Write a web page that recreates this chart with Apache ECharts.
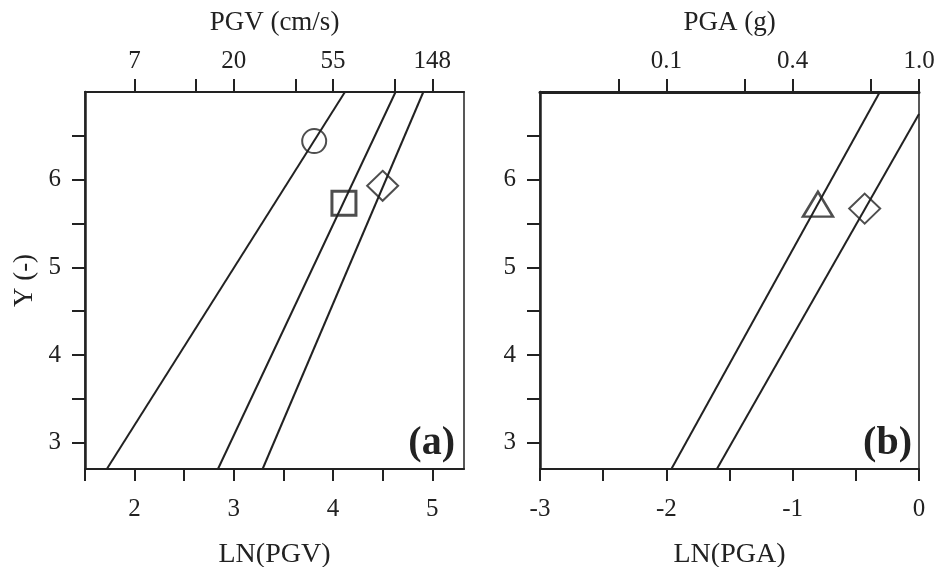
<!DOCTYPE html>
<html>
<head>
<meta charset="utf-8">
<script src="https://cdn.jsdelivr.net/npm/echarts@6/dist/echarts.min.js"></script>
<style>
  html, body { margin: 0; padding: 0; background: #fff; }
  #chart { width: 943px; height: 567px; }
</style>
</head>
<body>
<div id="chart"></div>
<script>
// y axis (shared by both panels)
const yTicks = [3, 3.5, 4, 4.5, 5, 5.5, 6, 6.5];
const yLabels = [3, 4, 5, 6];

// panel (a): LN(PGV) bottom, PGV top
const pgvTicks = [1.5, 2, 2.5, 3, 3.5, 4, 4.5, 5];
const pgvLabels = [2, 3, 4, 5];
const pgvTopTicks = [2, 2.62, 3, 3.62, 4, 4.62, 5];
const pgvTopAt = [2, 3, 4, 5];
const pgvTopText = ['7', '20', '55', '148'];

// panel (b): LN(PGA) bottom, PGA top
const pgaTicks = [-3, -2.5, -2, -1.5, -1, -0.5, 0];
const pgaLabels = [-3, -2, -1, 0];
const pgaTopTicks = [-2.38, -2, -1.38, -1, -0.38, 0];
const pgaTopAt = [-2, -1, 0];
const pgaTopText = ['0.1', '0.4', '1.0'];

// lines
const pgvLineCircle = [[1.72, 2.7], [4.12, 7]];
const pgvLineSquare = [[2.84, 2.7], [4.63, 7]];
const pgvLineDiamond = [[3.29, 2.7], [4.91, 7]];
const pgaLineTriangle = [[-1.96, 2.7], [-0.31, 7]];
const pgaLineDiamond = [[-1.60, 2.7], [0, 6.75]];

// markers
const ptCircle = [[3.81, 6.44]];
const ptSquare = [[4.11, 5.73]];
const ptDiamond = [[4.50, 5.93]];
const ptTriangle = [[-0.80, 5.72]];
const ptDiamondB = [[-0.43, 5.67]];

const ink = '#222';
const font = 'Liberation Serif';

function topLabel(at, text) {
  return function (v) {
    for (let i = 0; i < at.length; i++) {
      if (Math.abs(at[i] - v) < 1e-6) return text[i];
    }
    return '';
  };
}

function xAxisBottom(grid, min, max, ticks, labels, name) {
  return {
    type: 'value', gridIndex: grid, position: 'bottom', min: min, max: max,
    name: name, nameLocation: 'middle', nameGap: 72,
    nameTextStyle: { fontFamily: font, fontSize: 28, color: ink },
    axisLine: { show: true, onZero: false, lineStyle: { color: ink, width: 2 } },
    axisTick: { show: true, inside: false, length: 12, customValues: ticks, lineStyle: { color: ink, width: 2 } },
    axisLabel: { customValues: labels, margin: 28, fontFamily: font, fontSize: 25, color: ink },
    splitLine: { show: false }
  };
}

function xAxisTop(grid, min, max, ticks, at, text, name, lw) {
  return {
    type: 'value', gridIndex: grid, position: 'top', min: min, max: max,
    name: name, nameLocation: 'middle', nameGap: 56,
    nameTextStyle: { fontFamily: font, fontSize: 27, color: ink },
    axisLine: { show: true, onZero: false, lineStyle: { color: ink, width: lw } },
    axisTick: { show: true, inside: false, length: 13, customValues: ticks, lineStyle: { color: ink, width: 2 } },
    axisLabel: { customValues: at, formatter: topLabel(at, text), margin: 18, fontFamily: font, fontSize: 25, color: ink },
    splitLine: { show: false }
  };
}

function yAxisLeft(grid, name) {
  return {
    type: 'value', gridIndex: grid, position: 'left', min: 2.7, max: 7,
    name: name, nameLocation: 'middle', nameGap: 47, nameRotate: 90,
    nameTextStyle: { fontFamily: font, fontSize: 27, color: ink },
    axisLine: { show: true, onZero: false, lineStyle: { color: ink, width: 2.5 } },
    axisTick: { show: true, inside: false, length: 13, customValues: yTicks, lineStyle: { color: ink, width: 2 } },
    axisLabel: { customValues: yLabels, margin: 24, fontFamily: font, fontSize: 25, color: ink },
    splitLine: { show: false }
  };
}

function line(xi, yi, data) {
  return {
    type: 'line', xAxisIndex: xi, yAxisIndex: yi, data: data,
    symbol: 'none', silent: true, animation: false,
    lineStyle: { color: ink, width: 2 }
  };
}

function marker(xi, yi, data, symbol, size, bw) {
  return {
    type: 'scatter', xAxisIndex: xi, yAxisIndex: yi, data: data,
    symbol: symbol, symbolSize: size, animation: false, z: 5,
    itemStyle: { color: 'rgba(0,0,0,0)', borderColor: ink, borderWidth: bw }
  };
}

const chart = echarts.init(document.getElementById('chart'), null, { renderer: 'canvas' });

chart.setOption({
  backgroundColor: '#fff',
  animation: false,
  grid: [
    { left: 85, top: 92, width: 379, height: 377, outerBoundsMode: 'none', containLabel: false,
      show: true, borderColor: ink, borderWidth: 1.5 },
    { left: 540, top: 92, width: 379, height: 377, outerBoundsMode: 'none', containLabel: false,
      show: true, borderColor: ink, borderWidth: 1.5 }
  ],
  xAxis: [
    xAxisBottom(0, 1.5, 5.32, pgvTicks, pgvLabels, 'LN(PGV)'),
    xAxisTop(0, 1.5, 5.32, pgvTopTicks, pgvTopAt, pgvTopText, 'PGV (cm/s)', 2),
    xAxisBottom(1, -3, 0, pgaTicks, pgaLabels, 'LN(PGA)'),
    xAxisTop(1, -3, 0, pgaTopTicks, pgaTopAt, pgaTopText, 'PGA (g)', 3)
  ],
  yAxis: [
    yAxisLeft(0, 'Y (-)'),
    yAxisLeft(1, '')
  ],
  series: [
    line(0, 0, pgvLineCircle),
    line(0, 0, pgvLineSquare),
    line(0, 0, pgvLineDiamond),
    line(2, 1, pgaLineTriangle),
    line(2, 1, pgaLineDiamond),
    marker(0, 0, ptCircle, 'circle', 24, 2),
    marker(0, 0, ptSquare, 'rect', 24, 3),
    marker(0, 0, ptDiamond, 'diamond', [31, 30], 2),
    marker(2, 1, ptTriangle, 'triangle', [30, 25], 2.5),
    marker(2, 1, ptDiamondB, 'diamond', [31, 30], 2)
  ],
  graphic: [
    { type: 'text', right: 943 - 455, top: 424,
      style: { text: '(a)', font: 'bold 40px "Liberation Serif"', fill: ink } },
    { type: 'text', right: 943 - 912, top: 424,
      style: { text: '(b)', font: 'bold 40px "Liberation Serif"', fill: ink } }
  ]
});
</script>
</body>
</html>
